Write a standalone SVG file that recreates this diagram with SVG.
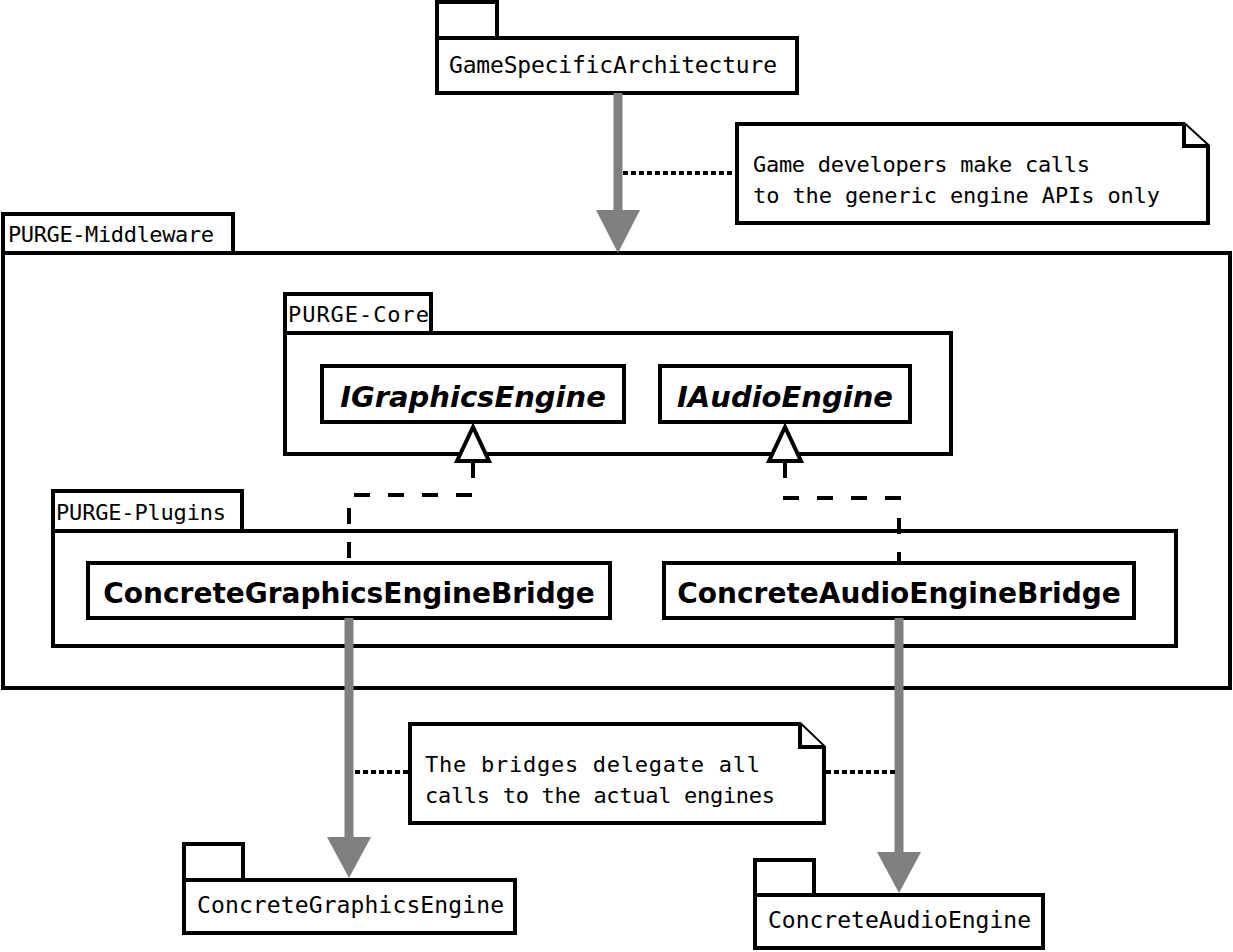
<svg xmlns="http://www.w3.org/2000/svg" width="1233" height="952" viewBox="0 0 1233 952">
<style>
.box{fill:#fff;stroke:#000;stroke-width:4;stroke-linejoin:miter}
.mono{font-family:"DejaVu Sans Mono","Liberation Mono",monospace;font-size:22px;fill:#000}
.big{font-size:23px}
.bold{font-family:"DejaVu Sans","Liberation Sans",sans-serif;font-size:28px;font-weight:bold;fill:#000;text-anchor:middle}
.ital{font-style:italic;font-size:29px}
.shaft{stroke:#808080;stroke-width:9;fill:none}
.head{fill:#808080;stroke:none}
.dot{stroke:#000;stroke-width:4;stroke-dasharray:5 3;fill:none}
.dash{stroke:#000;stroke-width:4;stroke-dasharray:16 18;fill:none}
.tri{fill:#fff;stroke:#000;stroke-width:4;stroke-linejoin:miter}
</style>
<rect width="1233" height="952" fill="#fff"/>
<g id="middleware">
<rect class="box" x="3" y="214" width="230" height="39"/>
<rect class="box" x="3" y="253" width="1227" height="435"/>
<text class="mono" x="8" y="242" textLength="206" lengthAdjust="spacing">PURGE-Middleware</text>
</g>
<g id="core">
<rect class="box" x="285" y="294" width="146" height="39"/>
<rect class="box" x="285" y="333" width="666" height="121"/>
<text class="mono" x="288" y="322" textLength="141" lengthAdjust="spacing">PURGE-Core</text>
</g>
<g id="plugins">
<rect class="box" x="53" y="491" width="189" height="40"/>
<rect class="box" x="53" y="531" width="1123" height="115"/>
<text class="mono" x="56" y="520" textLength="170" lengthAdjust="spacing">PURGE-Plugins</text>
</g>
<g id="igraphics">
<rect class="box" x="322" y="366" width="302" height="56"/>
<text class="bold ital" x="473" y="407">IGraphicsEngine</text>
</g>
<g id="iaudio">
<rect class="box" x="660" y="366" width="250" height="56"/>
<text class="bold ital" x="785" y="407">IAudioEngine</text>
</g>
<g id="cgeb">
<rect class="box" x="88" y="563" width="522" height="55"/>
<text class="bold" x="349" y="603">ConcreteGraphicsEngineBridge</text>
</g>
<g id="caeb">
<rect class="box" x="664" y="563" width="470" height="55"/>
<text class="bold" x="899" y="603">ConcreteAudioEngineBridge</text>
</g>
<g id="gsa">
<rect class="box" x="437" y="2" width="60" height="36"/>
<rect class="box" x="437" y="38" width="360" height="55"/>
<text class="mono big" x="449" y="73" textLength="328" lengthAdjust="spacing">GameSpecificArchitecture</text>
</g>
<g id="cge">
<rect class="box" x="184" y="844" width="59" height="36"/>
<rect class="box" x="184" y="880" width="331" height="53"/>
<text class="mono big" x="197" y="913" textLength="307" lengthAdjust="spacing">ConcreteGraphicsEngine</text>
</g>
<g id="cae">
<rect class="box" x="755" y="860" width="59" height="35"/>
<rect class="box" x="755" y="895" width="288" height="53"/>
<text class="mono big" x="768" y="928" textLength="263" lengthAdjust="spacing">ConcreteAudioEngine</text>
</g>
<g id="note1">
<path class="box" d="M737,124 H1184 L1208,146 V223 H737 Z"/>
<path class="box" d="M1184,124 V146 H1208"/>
<text class="mono" x="753" y="172" textLength="337" lengthAdjust="spacing">Game developers make calls</text>
<text class="mono" x="753" y="203" textLength="407" lengthAdjust="spacing">to the generic engine APIs only</text>
</g>
<g id="note2">
<path class="box" d="M410,724 H800 L824,747 V823 H410 Z"/>
<path class="box" d="M800,724 V747 H824"/>
<text class="mono" x="425" y="772" textLength="335" lengthAdjust="spacing">The bridges delegate all</text>
<text class="mono" x="425" y="803" textLength="350" lengthAdjust="spacing">calls to the actual engines</text>
</g>
<g id="connectors">
<line class="shaft" x1="618" y1="93" x2="618" y2="215"/>
<polygon class="head" points="596,210 640,210 618,253"/>
<line class="shaft" x1="349" y1="618" x2="349" y2="842"/>
<polygon class="head" points="327,837 371,837 349,878"/>
<line class="shaft" x1="899" y1="618" x2="899" y2="857"/>
<polygon class="head" points="877,852 921,852 899,893"/>
<line class="dot" x1="623" y1="173" x2="737" y2="173"/>
<line class="dot" x1="355" y1="772" x2="410" y2="772"/>
<line class="dot" x1="826" y1="772" x2="897" y2="772"/>
<path class="dash" d="M473,462 V495 H349 V562"/>
<polygon class="tri" points="473,427 457,461 489,461"/>
<path class="dash" d="M785,462 V498 H899 V562"/>
<polygon class="tri" points="785,427 769,461 801,461"/>
</g>
</svg>
